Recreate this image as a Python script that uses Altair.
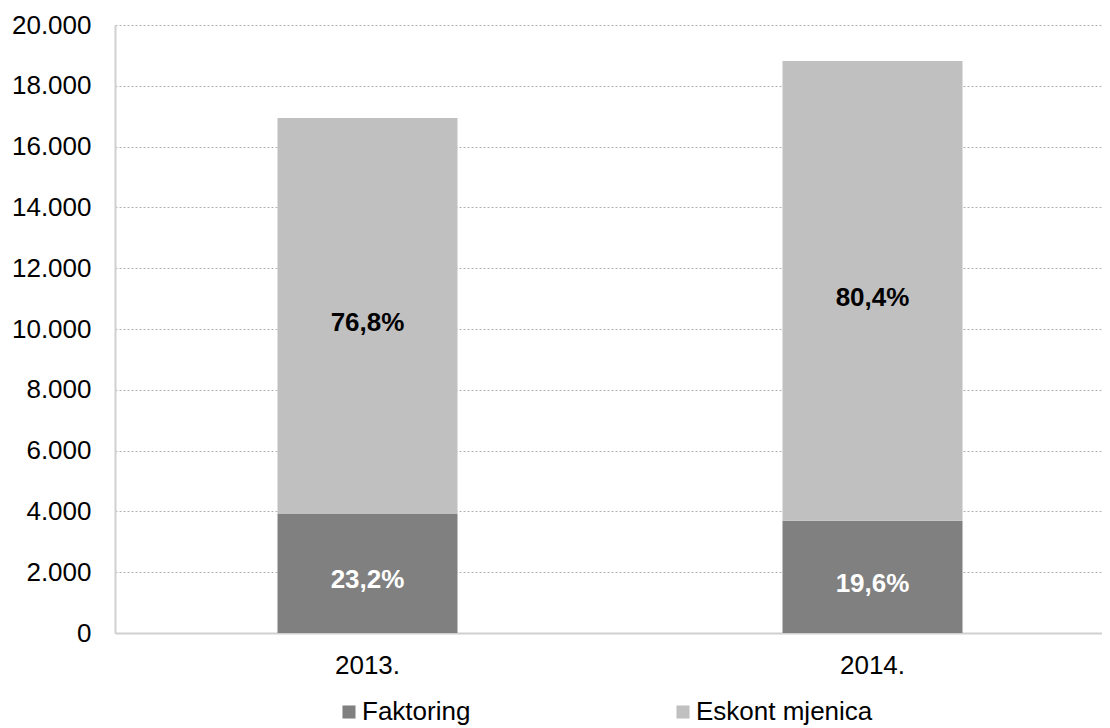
import altair as alt
import pandas as pd

years = ["2013.", "2014."]
series = ["Faktoring", "Eskont mjenica"]
faktoring = [3930, 3690]
eskont = [13010, 15125]
labels_f = ["23,2%", "19,6%"]
labels_e = ["76,8%", "80,4%"]
colors = ["#808080", "#c0c0c0"]
text_colors = ["white", "black"]

rows = []
for i, y in enumerate(years):
    rows.append({"year": y, "series": series[0], "value": faktoring[i], "idx": 0,
                 "mid": faktoring[i] / 2, "label": labels_f[i], "tc": text_colors[0]})
    rows.append({"year": y, "series": series[1], "value": eskont[i], "idx": 1,
                 "mid": faktoring[i] + eskont[i] / 2, "label": labels_e[i], "tc": text_colors[1]})
df = pd.DataFrame(rows)

FONT = "Liberation Sans"

x_scale = alt.Scale(domain=years, range=[0, 1010], paddingInner=0, paddingOuter=0)

x_enc = alt.X("year:N", sort=years, title=None, scale=x_scale,
              axis=alt.Axis(labelAngle=0, labelFontSize=26, labelFont=FONT, labelColor="#000000",
                            ticks=False, domainColor="#d0d0d0", domainWidth=2, labelPadding=19))

bars = alt.Chart(df).mark_bar(size=180).encode(
    x=x_enc,
    y=alt.Y("value:Q", stack="zero", title=None,
            scale=alt.Scale(domain=[0, 20000]),
            axis=alt.Axis(values=list(range(0, 20001, 2000)),
                          labelExpr="replace(format(datum.value, ','), ',', '.')",
                          labelFontSize=26, labelFont=FONT, labelColor="#000000",
                          ticks=False, domainColor="#d0d0d0", domainWidth=2, labelPadding=24,
                          grid=True, gridColor="#b0b0b0", gridDash=[2, 2], gridWidth=1)),
    color=alt.Color("series:N", sort=series,
                    scale=alt.Scale(domain=series, range=colors),
                    legend=alt.Legend(title=None, orient="none", legendX=221, legendY=674,
                                      direction="horizontal",
                                      columns=2, columnPadding=199, symbolType="square",
                                      symbolSize=170, symbolStrokeWidth=0, labelFontSize=26,
                                      labelOffset=0, labelLimit=0,
                                      labelFont=FONT, labelColor="#000000")),
    order=alt.Order("idx:Q", sort="ascending"),
)

text = alt.Chart(df).mark_text(fontSize=26, font=FONT, fontWeight="bold", dy=7).encode(
    x=alt.X("year:N", sort=years, scale=x_scale),
    y=alt.Y("mid:Q"),
    text="label:N",
    color=alt.Color("tc:N", scale=None),
)

chart = alt.layer(bars, text).properties(
    width=987, height=608,
    autosize=alt.AutoSizeParams(type="none"),
    padding={"left": 107, "top": 17, "right": 0, "bottom": 110},
).configure_view(stroke=None)

chart.save("out.html", embed_options={"renderer": "svg", "actions": False})
